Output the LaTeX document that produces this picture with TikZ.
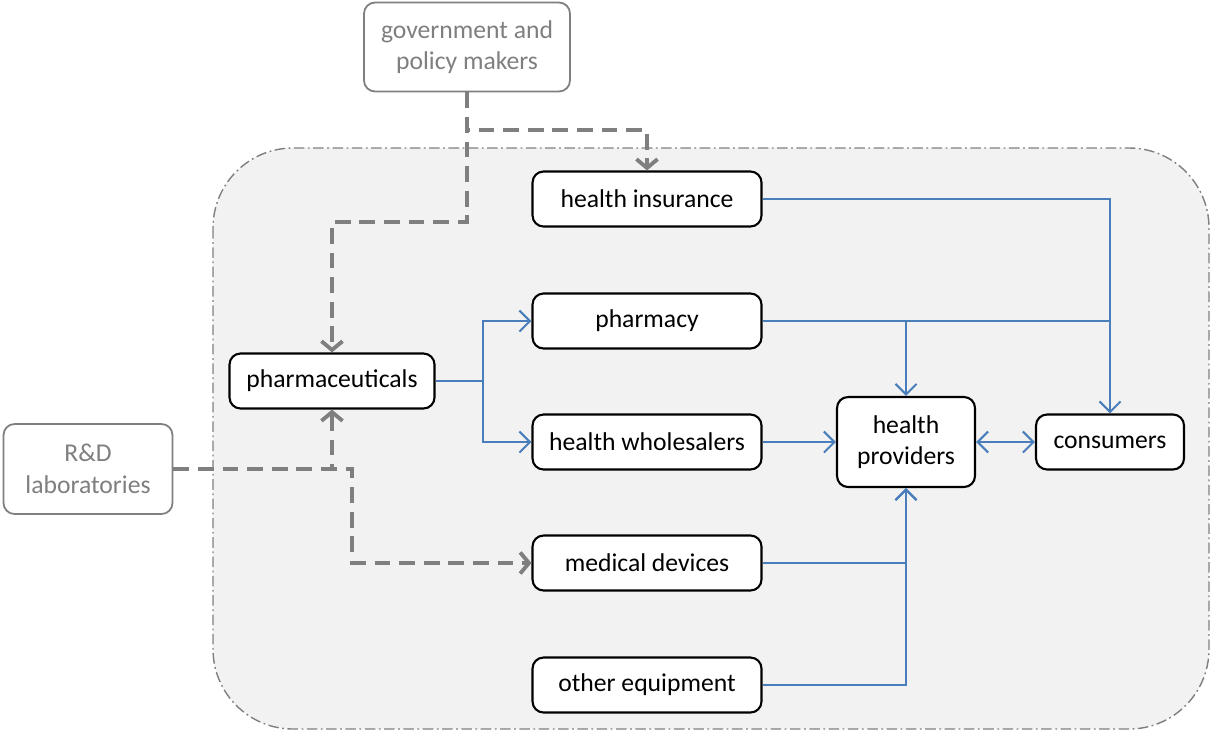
\documentclass[tikz,border=0pt]{standalone}
\usepackage{fontspec}
\setmainfont{Carlito}
\usetikzlibrary{arrows.meta}
\definecolor{flowblue}{HTML}{4A7EBB}
\definecolor{ctrlgray}{HTML}{7F7F7F}
\definecolor{zonegray}{HTML}{F2F2F2}
\tikzset{
	actor/.style={draw=black,line width=1.2pt,rounded corners=0.22cm,fill=white,minimum width=4.58cm,minimum height=1.1cm,align=center,font=\fontsize{14.6}{18}\selectfont},
	outsider/.style={actor,draw=ctrlgray,text=ctrlgray,line width=1pt},
	wire/.style={flowblue,line width=1.2pt},
	flow/.style={wire,>={Straight Barb[length=6pt,width=12pt]},->},
	ctrl/.style={ctrlgray,line width=2.2pt,dash pattern=on 9pt off 5pt,-{Straight Barb[length=5pt,width=12pt]}},
}
\begin{document}
\begin{tikzpicture}[x=0.02cm,y=-0.02cm]
	\useasboundingbox (0,0) rectangle (1212,731);
	\draw[ctrlgray,line width=0.8pt,dash pattern=on 6pt off 2pt on 1pt off 2pt,fill=zonegray,rounded corners=1.6cm] (213,148) rectangle (1209,729); % market
	\node[outsider,minimum width=4.12cm,minimum height=1.78cm] (gov) at (467,47) {government and\\policy makers};
	\node[outsider,minimum width=3.38cm,minimum height=1.8cm] (rd) at (88,469) {R\&D\\laboratories};
	\node[actor,minimum width=4.1cm] (pharma) at (332,381) {pharmaceuticals};
	\node[actor] (ins) at (647,199) {health insurance};
	\node[actor] (pharmacy) at (647,321) {pharmacy};
	\node[actor] (whole) at (647,442) {health wholesalers};
	\node[actor] (dev) at (647,563) {medical devices};
	\node[actor] (other) at (647,685) {other equipment};
	\node[actor,minimum width=2.76cm,minimum height=1.8cm] (hp) at (906,442) {health\\providers};
	\node[actor,minimum width=2.96cm] (cons) at (1110,442) {consumers};
	% regulation and research
	\draw[ctrl] (gov.south) -- (467,130) -| (ins.north);
	\draw[ctrl] (gov.south) -- (467,222) -| (pharma.north);
	\draw[ctrl] (rd.east) -| (pharma.south);
	\draw[ctrl] (rd.east) -- (352,469) |- (dev.west);
	% supply chain
	\draw[flow] (pharma.east) -- (483,381) |- (pharmacy.west);
	\draw[flow] (483,381) |- (whole.west);
	\draw[flow] (ins.east) -| (cons.north);
	\draw[wire] (pharmacy.east) -- (1110,321);
	\draw[flow] (906,321) -- (hp.north);
	\draw[flow] (whole.east) -- (hp.west);
	\draw[flow,<->] (hp.east) -- (cons.west);
	\draw[flow] (dev.east) -| (hp.south);
	\draw[flow] (other.east) -| (hp.south);
\end{tikzpicture}
\end{document}
